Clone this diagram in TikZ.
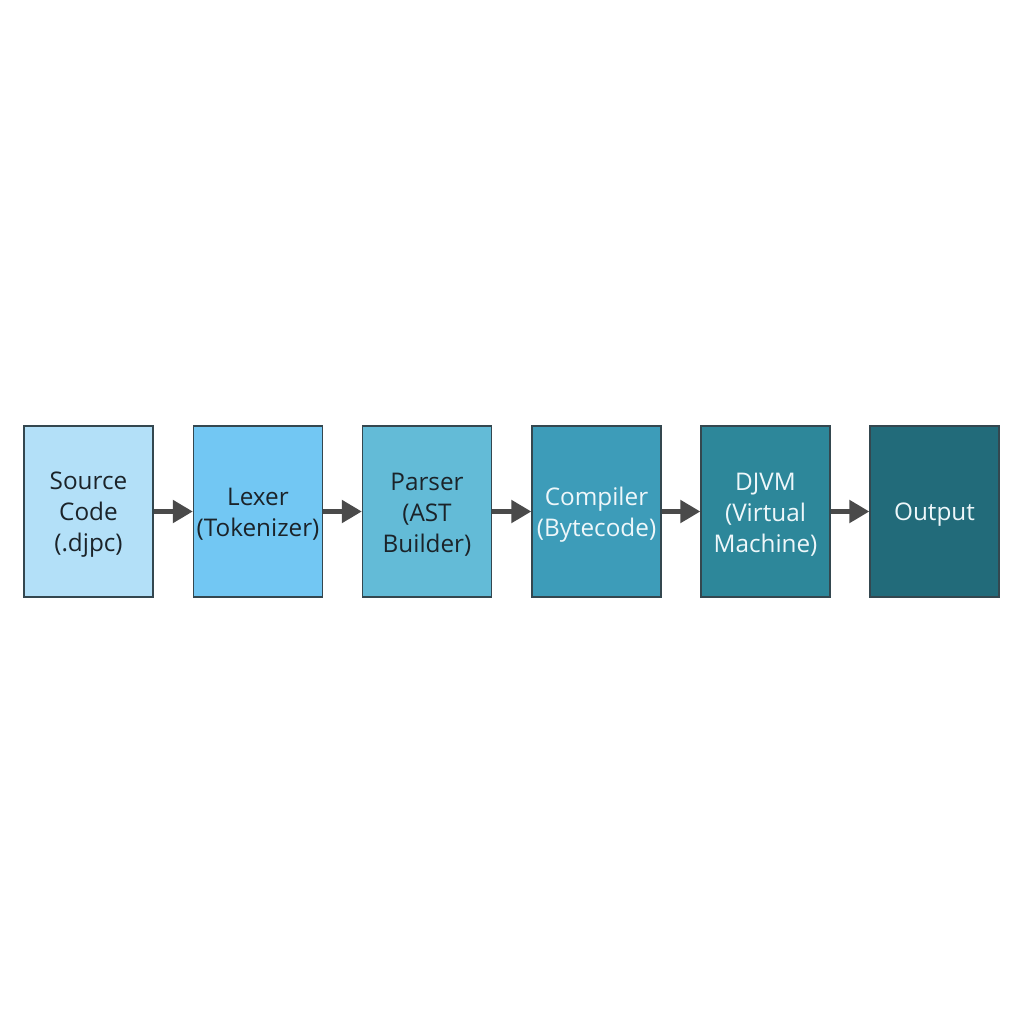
\documentclass[tikz,border=0pt]{standalone}
\usepackage{fontspec}
\setmainfont{Open Sans}
\usetikzlibrary{arrows.meta}
\definecolor{c1}{HTML}{B3E0F8}
\definecolor{c2}{HTML}{72C7F3}
\definecolor{c3}{HTML}{63BBD7}
\definecolor{c4}{HTML}{3D9CB9}
\definecolor{c5}{HTML}{2D879A}
\definecolor{c6}{HTML}{226B7A}
\definecolor{edge}{HTML}{34474F}
\definecolor{darktxt}{HTML}{1B2329}
\definecolor{lighttxt}{HTML}{EEF7FA}
\definecolor{arr}{HTML}{4A4A4A}
\tikzset{
  stage/.style={draw=edge, line width=1.3pt, minimum width=129pt, minimum height=171pt,
    inner sep=0pt},
  stagetext/.style={inner sep=0pt, align=center, font=\fontsize{24.3}{31}\selectfont},
  flow/.style={draw=arr, line width=5.5pt, -{Triangle[length=20pt,width=22pt]}, shorten >=0pt}
}
\begin{document}
\begin{tikzpicture}[x=1pt,y=-1pt]
\useasboundingbox[fill=white] (0,0) rectangle (1024,1024);
\node[stage, fill=c1] (src) at (88.5,511.5) {};
\node[stage, fill=c2] (lex) at (258,511.5) {};
\node[stage, fill=c3] (par) at (427,511.5) {};
\node[stage, fill=c4] (com) at (596.5,511.5) {};
\node[stage, fill=c5] (vm) at (765.5,511.5) {};
\node[stage, fill=c6] (out) at (934.5,511.5) {};
\node[stagetext, text=darktxt] (srct) at ([yshift=-3pt]src.center) {Source\\Code\\(.djpc)};
\node[stagetext, text=darktxt] (lext) at ([yshift=-3pt]lex.center) {Lexer\\(Tokenizer)};
\node[stagetext, text=darktxt] (part) at ([yshift=-3pt]par.center) {Parser\\(AST\\Builder)};
\node[stagetext, text=lighttxt] (comt) at ([yshift=-3pt]com.center) {Compiler\\(Bytecode)};
\node[stagetext, text=lighttxt] (vmt) at ([yshift=-3pt]vm.center) {DJVM\\(Virtual\\Machine)};
\node[stagetext, text=lighttxt] (outt) at ([yshift=-3pt]out.center) {Output};
\draw[flow] (src) -- (lex);
\draw[flow] (lex) -- (par);
\draw[flow] (par) -- (com);
\draw[flow] (com) -- (vm);
\draw[flow] (vm) -- (out);
\end{tikzpicture}
\end{document}
